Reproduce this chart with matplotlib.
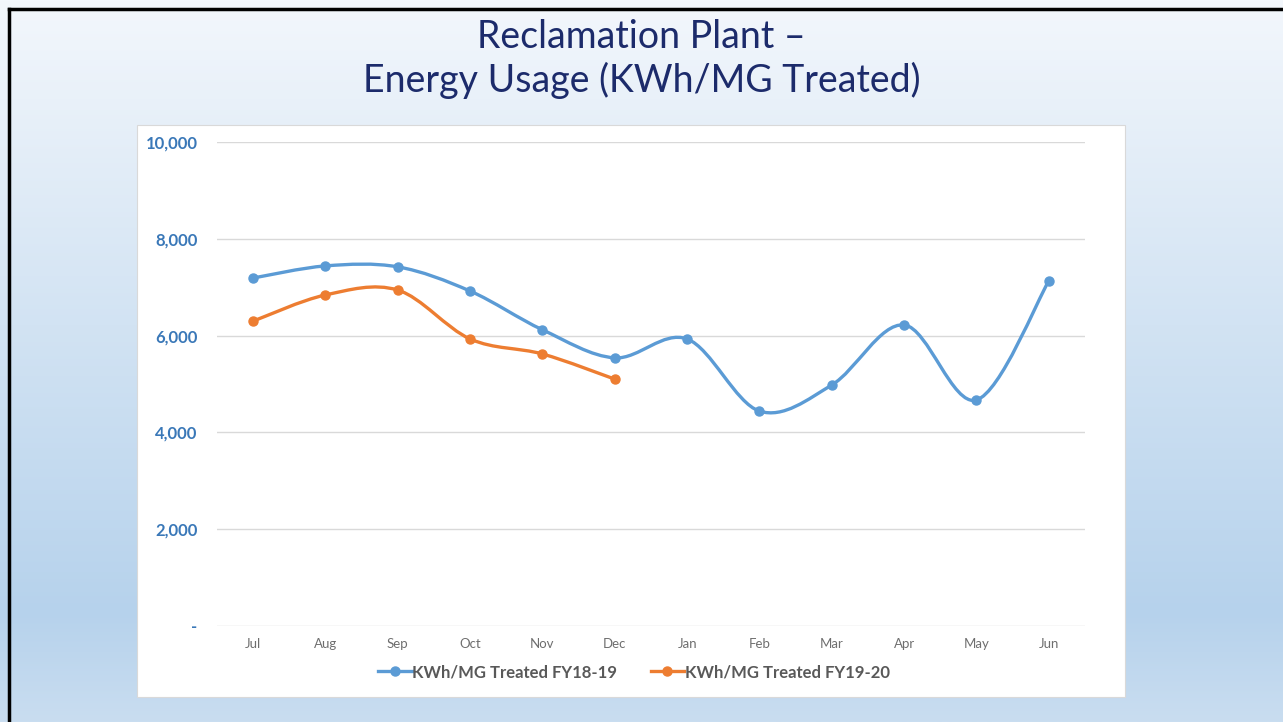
import numpy as np
import matplotlib.pyplot as plt
from matplotlib.path import Path
from matplotlib.patches import PathPatch, Rectangle
from matplotlib.lines import Line2D
from matplotlib.colors import LinearSegmentedColormap
from matplotlib.ticker import FuncFormatter

# -------------------------
# Data
# -------------------------
months = ["Jul", "Aug", "Sep", "Oct", "Nov", "Dec",
          "Jan", "Feb", "Mar", "Apr", "May", "Jun"]
fy1819 = [7190, 7440, 7420, 6920, 6120, 5540,
          5930, 4440, 4980, 6220, 4670, 7130]
fy1920 = [6300, 6840, 6940, 5930, 5620, 5100]
label_1819 = "KWh/MG Treated FY18-19"
label_1920 = "KWh/MG Treated FY19-20"
title = "Reclamation Plant \u2013\nEnergy Usage (KWh/MG Treated)"
yticks = [0, 2000, 4000, 6000, 8000, 10000]

BLUE = "#5b9bd5"
ORANGE = "#ed7d31"
plt.rcParams['font.family'] = ['Lato', 'DejaVu Sans']


def smooth_path(x, y):
    """Excel-like smoothed line: cubic Bezier through every point."""
    x = np.asarray(x, float)
    y = np.asarray(y, float)
    n = len(x)
    verts = [(x[0], y[0])]
    codes = [Path.MOVETO]
    for i in range(n - 1):
        i0 = max(i - 1, 0)
        i3 = min(i + 2, n - 1)
        c1 = (x[i] + (x[i + 1] - x[i0]) / 6, y[i] + (y[i + 1] - y[i0]) / 6)
        c2 = (x[i + 1] - (x[i3] - x[i]) / 6, y[i + 1] - (y[i3] - y[i]) / 6)
        verts += [c1, c2, (x[i + 1], y[i + 1])]
        codes += [Path.CURVE4] * 3
    return Path(verts, codes)


fig = plt.figure(figsize=(12.83, 7.22), dpi=100)

# -------------------------
# Slide background
# -------------------------
bg = fig.add_axes([0, 0, 1, 1])
bg.set_xlim(0, 1)
bg.set_ylim(0, 1)
bg.axis("off")
cmap = LinearSegmentedColormap.from_list(
    "slide", [(0.0, "#c9ddf0"), (0.15, "#b6d2ec"), (0.55, "#d2e3f3"), (1.0, "#f3f7fc")])
grad = np.linspace(0, 1, 256).reshape(-1, 1)
bg.imshow(grad, cmap=cmap, aspect="auto", extent=[0, 1, 0, 1], origin="lower", zorder=0)

# black border on left / top
bg.plot([9 / 1283, 9 / 1283], [0, 1 - 9 / 722], color="black", lw=2.5, zorder=2)
bg.plot([9 / 1283, 1], [1 - 9 / 722, 1 - 9 / 722], color="black", lw=2.5, zorder=2)

# white chart panel
bg.add_patch(Rectangle((137 / 1283, 1 - 697 / 722), 988 / 1283, 572 / 722,
                       facecolor="white", edgecolor="#d9d9d9", lw=0.8, zorder=1))

fig.text(0.5, 1 - 59 / 722, title, ha="center", va="center",
         fontsize=27, color="#1c2b6b", linespacing=1.2)

# -------------------------
# Chart
# -------------------------
ax = fig.add_axes([217 / 1283, 1 - 626 / 722, 868 / 1283, 484 / 722])
ax.set_facecolor("none")
ax.set_xlim(-0.5, len(months) - 0.5)
ax.set_ylim(0, 10000)

x18 = np.arange(len(fy1819))
x19 = np.arange(len(fy1920))
for xs, ys, c in [(x18, fy1819, BLUE), (x19, fy1920, ORANGE)]:
    ax.add_patch(PathPatch(smooth_path(xs, ys), fill=False, edgecolor=c,
                           lw=2.4, capstyle="round", zorder=3))
    ax.plot(xs, ys, "o", color=c, ms=6.5, zorder=4)

ax.set_yticks(yticks)
ax.yaxis.set_major_formatter(FuncFormatter(lambda v, p: "-" if v == 0 else f"{int(v):,}"))
ax.set_xticks(np.arange(len(months)))
ax.set_xticklabels(months)
ax.grid(axis="y", color="#d9d9d9", lw=1)
ax.set_axisbelow(True)
for s in ax.spines.values():
    s.set_visible(False)
ax.tick_params(axis="both", length=0)
ax.tick_params(axis="y", pad=14, labelsize=12, labelcolor="#3a78b8")
ax.tick_params(axis="x", pad=8.5, labelsize=9.5, labelcolor="#6e6e6e")
for t in ax.get_yticklabels():
    t.set_fontweight("bold")

handles = [Line2D([], [], color=BLUE, lw=2.4, marker="o", ms=6.5),
           Line2D([], [], color=ORANGE, lw=2.4, marker="o", ms=6.5)]
fig.legend(handles, [label_1819, label_1920], loc="center",
           bbox_to_anchor=(634 / 1283, 1 - 672 / 722), ncol=2, frameon=False,
           handlelength=2.0, handletextpad=0.05, columnspacing=2.0,
           prop={"size": 12, "weight": "bold"}, labelcolor="#595959")

fig.savefig("out.png", dpi=100)
